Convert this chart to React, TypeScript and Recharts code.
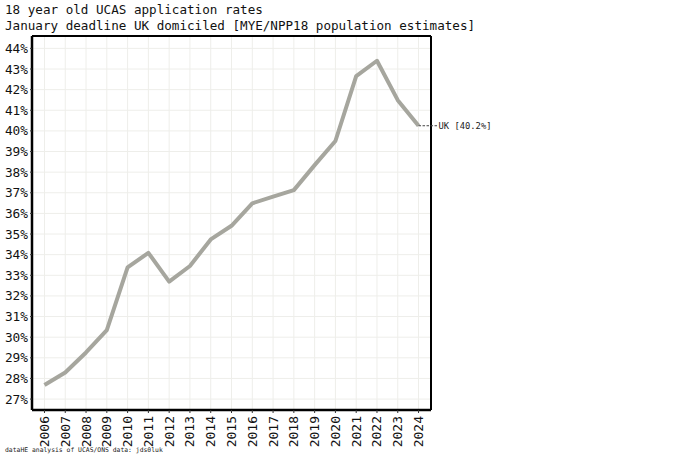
import React from 'react';
import { LineChart, Line, XAxis, YAxis, CartesianGrid, ReferenceLine } from 'recharts';

const years = [
  2006, 2007, 2008, 2009, 2010, 2011, 2012, 2013, 2014, 2015,
  2016, 2017, 2018, 2019, 2020, 2021, 2022, 2023, 2024,
];
const ukRates = [
  27.68, 28.29, 29.26, 30.34, 33.38, 34.09, 32.69, 33.45, 34.74, 35.4,
  36.49, 36.81, 37.13, 38.34, 39.51, 42.66, 43.4, 41.49, 40.25,
];
const yTicks = [27, 28, 29, 30, 31, 32, 33, 34, 35, 36, 37, 38, 39, 40, 41, 42, 43, 44];
const seriesLabel = 'UK [40.2%]';

const MONO = '"DejaVu Sans Mono", "Liberation Mono", monospace';
const X_DOMAIN: [number, number] = [2005.4, 2024.6];
const Y_DOMAIN: [number, number] = [26.47, 44.6];

const chartData = years.map((year, i) => ({ year, uk: ukRates[i] }));

// only the last point gets the leader line + label
function EndLabel(props: any) {
  const { x, y, index } = props;
  if (index !== chartData.length - 1) return null;
  return (
    <g>
      <line x1={x} y1={y} x2={x + 19} y2={y} stroke="#444" strokeWidth={1} strokeDasharray="2.5 1.5" />
      <text x={x + 20} y={y} dy={3} fontSize={8.8} fontFamily={MONO} fill="#222">
        {seriesLabel}
      </text>
    </g>
  );
}

function YearTick(props: any) {
  const { x, y, payload } = props;
  return (
    <text
      x={x}
      y={y}
      transform={`rotate(-90, ${x}, ${y})`}
      dx={-1}
      dy={4.5}
      textAnchor="end"
      fontSize={13}
      fontFamily={MONO}
      fill="#111"
    >
      {payload.value}
    </text>
  );
}

export default function App() {
  return (
    <div style={{ position: 'absolute', left: 0, top: 0, width: 680, height: 462, background: '#fff' }}>
      <div style={{ position: 'absolute', left: 5, top: 2, fontFamily: MONO, fontSize: 12.6, lineHeight: '16px', color: '#111', whiteSpace: 'pre' }}>
        {'18 year old UCAS application rates\nJanuary deadline UK domiciled [MYE/NPP18 population estimates]'}
      </div>
      <LineChart
        width={680}
        height={462}
        data={chartData}
        margin={{ top: 36, right: 249, bottom: 0, left: 0 }}
      >
        <CartesianGrid stroke="#eeeeea" strokeWidth={1} />
        <XAxis
          dataKey="year"
          type="number"
          domain={X_DOMAIN}
          ticks={years}
          interval={0}
          height={52}
          tick={<YearTick />}
          tickLine={{ stroke: '#333' }}
          tickSize={3}
          axisLine={{ stroke: '#000', strokeWidth: 2.5 }}
        />
        <YAxis
          type="number"
          domain={Y_DOMAIN}
          ticks={yTicks}
          interval={0}
          width={32}
          tickFormatter={(v: number) => `${v}%`}
          tick={{ fontSize: 12.8, fontFamily: MONO, fill: '#111' }}
          tickLine={{ stroke: '#333' }}
          tickSize={2}
          axisLine={{ stroke: '#000', strokeWidth: 2.5 }}
        />
        {/* frame: top and right edges */}
        <ReferenceLine y={Y_DOMAIN[1]} stroke="#000" strokeWidth={2} ifOverflow="visible" />
        <ReferenceLine x={X_DOMAIN[1]} stroke="#000" strokeWidth={2} ifOverflow="visible" />
        <Line
          type="linear"
          dataKey="uk"
          stroke="#a6a69e"
          strokeWidth={4}
          strokeLinejoin="round"
          dot={false}
          isAnimationActive={false}
          label={<EndLabel />}
        />
      </LineChart>
      <div style={{ position: 'absolute', left: 5, top: 446, fontFamily: MONO, fontSize: 6.4, color: '#222', whiteSpace: 'pre' }}>
        dataHE analysis of UCAS/ONS data: jds0luk
      </div>
    </div>
  );
}
